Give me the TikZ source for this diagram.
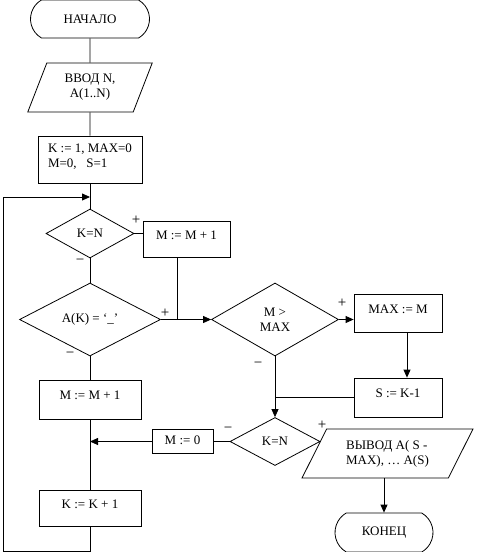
\documentclass[tikz,border=0pt]{standalone}
\usepackage{fontspec}
\setmainfont{Liberation Serif}
\usetikzlibrary{shapes.geometric,shapes.misc,arrows.meta,calc}
\tikzstyle{termr}=[draw,rounded rectangle,rounded rectangle arc length=120,inner sep=0pt]
\tikzstyle{ioblock}=[draw,trapezium,trapezium stretches=true,inner sep=0pt]
\tikzstyle{actbox}=[draw,rectangle,inner sep=0pt,text depth=8pt]
\tikzstyle{cond}=[draw,diamond,inner sep=0pt]
\tikzstyle{sign}=[inner sep=0pt,font=\fontsize{15}{15}\selectfont]
\tikzstyle{arr}=[-{Triangle[length=8pt,width=7pt]}]

\begin{document}
\begin{tikzpicture}[x=1pt,y=-1pt,line width=0.8pt,font=\fontsize{13}{15}\selectfont]
    \useasboundingbox (0,0) rectangle (481,552);
    \node[termr,minimum width=119,minimum height=38] (beg) at (90,19) {НАЧАЛО};
    \node[ioblock,minimum width=125,minimum height=49,trapezium left angle=67,trapezium right angle=113,align=center] (inp) at (90,87.5) {ВВОД N,\\A(1..N)};
    \node[actbox,minimum width=104,minimum height=47,align=left] (init) at (90,159.5) {K := 1, MAX=0\\M=0,\ \ \ S=1};
    \node[cond,minimum width=88,minimum height=49] (kn1) at (90,233.5) {K=N};
    \node[actbox,minimum width=87,minimum height=36] (inc1) at (186.5,239) {M := M + 1};
    \node[cond,minimum width=141,minimum height=73] (ak) at (90,319.5) {A(K) = ‘\_’};
    \node[actbox,minimum width=102,minimum height=39] (inc2) at (90,399.5) {M := M + 1};
    \node[actbox,minimum width=102,minimum height=36] (kk) at (90,508) {K := K + 1};
    \node[cond,minimum width=127,minimum height=73,align=center] (mm) at (275,319.5) {M >\\MAX};
    \node[actbox,minimum width=88,minimum height=38] (maxm) at (398,313) {MAX := M};
    \node[actbox,minimum width=88,minimum height=39] (sk) at (398,397.5) {S := K-1};
    \node[cond,minimum width=90,minimum height=48] (kn2) at (275,441.5) {K=N};
    \node[actbox,minimum width=61,minimum height=24,text depth=3pt] (m0) at (182.5,441.5) {M := 0};
    \node[ioblock,minimum width=171,minimum height=49,trapezium left angle=58,trapezium right angle=122,align=left] (out) at (387.5,453.5) {ВЫВОД A( S -\\MAX), \ldots\ A(S)};
    \node[termr,minimum width=98,minimum height=39] (fin) at (384,532.5) {КОНЕЦ};

    % signs at the branches
    \node[sign] (p1) at (136,220) {+};
    \node[sign] (n1) at (80,262) {−};
    \node[sign] (p2) at (165,313) {+};
    \node[sign] (n2) at (70,355) {−};
    \node[sign] (p3) at (342,303) {+};
    \node[sign] (n3) at (258,365) {−};
    \node[sign] (n4) at (228,430) {−};
    \node[sign] (p4) at (322,425) {+};

    \foreach \from/\to in {beg/inp,inp/init,init/kn1,kn1/ak,ak/inc2,inc2/kk}
    \draw (\from.south) -- (\to.north);

    % loop back
    \coordinate (lpa) at (90,197);
    \coordinate (lpb) at (3,197);
    \coordinate (lpc) at (3,551);
    \coordinate (lpd) at (90,551);
    \draw (kk.south) -- (lpd) -- (lpc) -- (lpb);
    \draw[arr] (lpb) -- (lpa);

    \draw (kn1.east) -- (kn1.east -| inc1.west);
    \coordinate (jn1) at (177,319.5);
    \draw (inc1.south -| jn1) -- (jn1);
    \draw[arr] (ak.east) -- (mm.west);
    \draw[arr] (mm.east) -- (mm.east -| maxm.west);
    \draw[arr] ([xshift=9]maxm.south) -- ([xshift=9]sk.north);
    \draw[arr] (mm.south) -- (kn2.north);
    \draw (sk.west) -- (sk.west -| mm.south);
    \draw (kn2.west) -- (m0.east);
    \draw[arr] (m0.west) -- (m0.west -| inc2.south);
    \draw (kn2.east) -- ($(out.bottom left corner)!0.73!(out.top left corner)$);
    \draw[arr] (fin.north |- out.south) -- (fin.north);
\end{tikzpicture}
\end{document}
